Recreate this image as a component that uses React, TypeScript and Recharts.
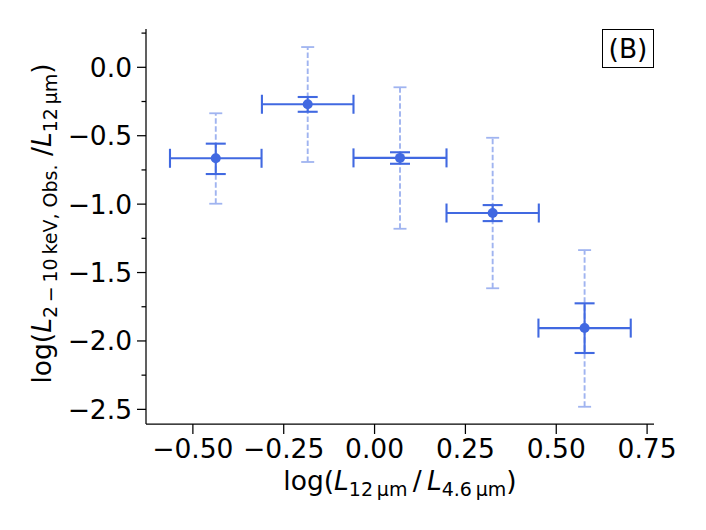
import React from 'react';
import { ScatterChart, Scatter, XAxis, YAxis, ErrorBar, Label } from 'recharts';

// ---- data ----
const xCenters = [-0.437, -0.184, 0.07, 0.325, 0.578];
const xHalfWidths = [0.126, 0.126, 0.128, 0.127, 0.127];
const yCenters = [-0.665, -0.27, -0.662, -1.065, -1.906];
const ySolidLow = [0.115, 0.055, 0.043, 0.059, 0.182];
const ySolidHigh = [0.107, 0.053, 0.041, 0.058, 0.181];
const yDashLow = [0.332, 0.422, 0.518, 0.55, 0.575];
const yDashHigh = [0.329, 0.418, 0.516, 0.55, 0.57];
const xTicks = [-0.5, -0.25, 0, 0.25, 0.5, 0.75];
const yMajorTicks = [0, -0.5, -1, -1.5, -2, -2.5];
const yMinorTicks = [0.25, -0.25, -0.75, -1.25, -1.75, -2.25];
const panelLabel = '(B)';

const rows = xCenters.map((x, i) => ({
  x,
  y: yCenters[i],
  xErr: xHalfWidths[i],
  solidErr: [ySolidLow[i], ySolidHigh[i]],
  dashErr: [yDashLow[i], yDashHigh[i]],
}));
const capRows = [
  ...xCenters.map((x, i) => ({ x, y: yCenters[i] + yDashHigh[i] })),
  ...xCenters.map((x, i) => ({ x, y: yCenters[i] - yDashLow[i] })),
];

const BLUE = '#4169E1';
const LIGHT = '#a0b4f0';
const FONT = '"DejaVu Sans", sans-serif';
const FS = 26.5;
const TICK_SIZE = 9;
const TICK_MARGIN = 5;

const minus = (s: string) => s.replace('-', '\u2212');
const fmtX = (v: number) => minus(v.toFixed(2));
const fmtY = (v: number) => minus((Math.abs(v) < 1e-9 ? 0 : v).toFixed(1));

const YTick = (props: any) => {
  const { x, y, payload } = props;
  const v = payload.value;
  const major = yMajorTicks.some((t) => Math.abs(t - v) < 1e-9);
  const axisX = x + TICK_SIZE + TICK_MARGIN;
  return (
    <g>
      <line x1={axisX - (major ? 9 : 4.5)} x2={axisX} y1={y} y2={y} stroke="#000" strokeWidth={1.25} />
      {major && (
        <text x={x} y={y} dy="0.36em" textAnchor="end" fontFamily={FONT} fontSize={FS} fill="#000">
          {fmtY(v)}
        </text>
      )}
    </g>
  );
};

const SUB = 19;
const SUBDY = 5.5;

const XLabel = (props: any) => {
  const vb = props.viewBox || {};
  const cx = vb.x + vb.width / 2;
  const by = vb.y + 66;
  return (
    <text x={cx} y={by} textAnchor="middle" fontFamily={FONT} fontSize={FS} fill="#000">
      <tspan>log(</tspan>
      <tspan fontStyle="italic">L</tspan>
      <tspan fontSize={SUB} dy={SUBDY}>12{'\u2009'}μm</tspan>
      <tspan dy={-SUBDY}>{'\u2009'}/{'\u2009'}</tspan>
      <tspan fontStyle="italic">L</tspan>
      <tspan fontSize={SUB} dy={SUBDY}>4.6{'\u2009'}μm</tspan>
      <tspan dy={-SUBDY}>)</tspan>
    </text>
  );
};

const YLabel = (props: any) => {
  const vb = props.viewBox || {};
  const cx = vb.x + 23;
  const cy = vb.y + vb.height / 2 - 3;
  return (
    <text
      x={cx}
      y={cy}
      transform={`rotate(-90, ${cx}, ${cy})`}
      textAnchor="middle"
      fontFamily={FONT}
      fontSize={FS}
      fill="#000"
    >
      <tspan>log(</tspan>
      <tspan fontStyle="italic">L</tspan>
      <tspan fontSize={SUB} dy={SUBDY}>2{'\u2009'}−{'\u2009'}10{'\u2009'}keV, Obs.</tspan>
      <tspan dy={-SUBDY}>{' '}/</tspan>
      <tspan fontStyle="italic">L</tspan>
      <tspan fontSize={SUB} dy={SUBDY}>12{'\u2009'}μm</tspan>
      <tspan dy={-SUBDY}>)</tspan>
    </text>
  );
};

const Dot = (p: any) => <circle cx={p.cx} cy={p.cy} r={5} fill={BLUE} />;
const Cap = (p: any) => (
  <line x1={p.cx - 6.5} x2={p.cx + 6.5} y1={p.cy} y2={p.cy} stroke={LIGHT} strokeWidth={1.8} />
);
const Empty = () => <g />;

const axisStroke = { stroke: '#000', strokeWidth: 1.25 };

export default function App() {
  return (
    <div style={{ position: 'relative', width: 690, height: 514, fontFamily: FONT }}>
      <ScatterChart width={690} height={514} margin={{ top: 21, right: 44, bottom: 18, left: 20 }}>
        <XAxis
          xAxisId={0}
          type="number"
          dataKey="x"
          domain={[-0.629, 0.769]}
          allowDataOverflow
          ticks={xTicks}
          interval={0}
          tickFormatter={fmtX}
          tick={{ fontSize: FS, fill: '#000', fontFamily: FONT }}
          tickSize={10}
          tickMargin={5}
          axisLine={axisStroke}
          tickLine={axisStroke}
          height={80}
          label={<Label content={XLabel} />}
        />
        <XAxis
          xAxisId="top"
          orientation="top"
          type="number"
          domain={[-0.629, 0.769]}
          allowDataOverflow
          tick={false}
          tickLine={false}
          axisLine={axisStroke}
          height={0}
        />
        <YAxis
          yAxisId={0}
          type="number"
          dataKey="y"
          domain={[-2.607, 0.28]}
          allowDataOverflow
          ticks={[...yMinorTicks, ...yMajorTicks].sort((a, b) => b - a)}
          interval={0}
          tick={<YTick />}
          tickSize={TICK_SIZE}
          tickMargin={TICK_MARGIN}
          tickLine={{ stroke: '#000', strokeOpacity: 0 }}
          axisLine={axisStroke}
          width={118}
          label={<Label content={YLabel} />}
        />
        <YAxis
          yAxisId="right"
          orientation="right"
          type="number"
          domain={[-2.607, 0.28]}
          allowDataOverflow
          tick={false}
          tickLine={false}
          axisLine={axisStroke}
          width={0}
        />
        <Scatter data={rows} shape={Empty} isAnimationActive={false}>
          <ErrorBar
            dataKey="dashErr"
            direction="y"
            width={0}
            stroke={LIGHT}
            strokeWidth={1.9}
            strokeDasharray="5.5 2.5"
            isAnimationActive={false}
          />
        </Scatter>
        <Scatter data={capRows} shape={Cap} isAnimationActive={false} />
        <Scatter data={rows} shape={Dot} isAnimationActive={false}>
          <ErrorBar dataKey="xErr" direction="x" width={9.5} stroke={BLUE} strokeWidth={2.1} isAnimationActive={false} />
          <ErrorBar dataKey="solidErr" direction="y" width={10} stroke={BLUE} strokeWidth={2.1} isAnimationActive={false} />
        </Scatter>
      </ScatterChart>
      <div
        style={{
          position: 'absolute',
          left: 594,
          top: 21,
          width: 52,
          height: 39,
          boxSizing: 'border-box',
          border: '1px solid #000',
          background: '#fff',
          display: 'flex',
          alignItems: 'center',
          justifyContent: 'center',
          fontSize: FS,
          color: '#000',
        }}
      >
        {panelLabel}
      </div>
    </div>
  );
}
